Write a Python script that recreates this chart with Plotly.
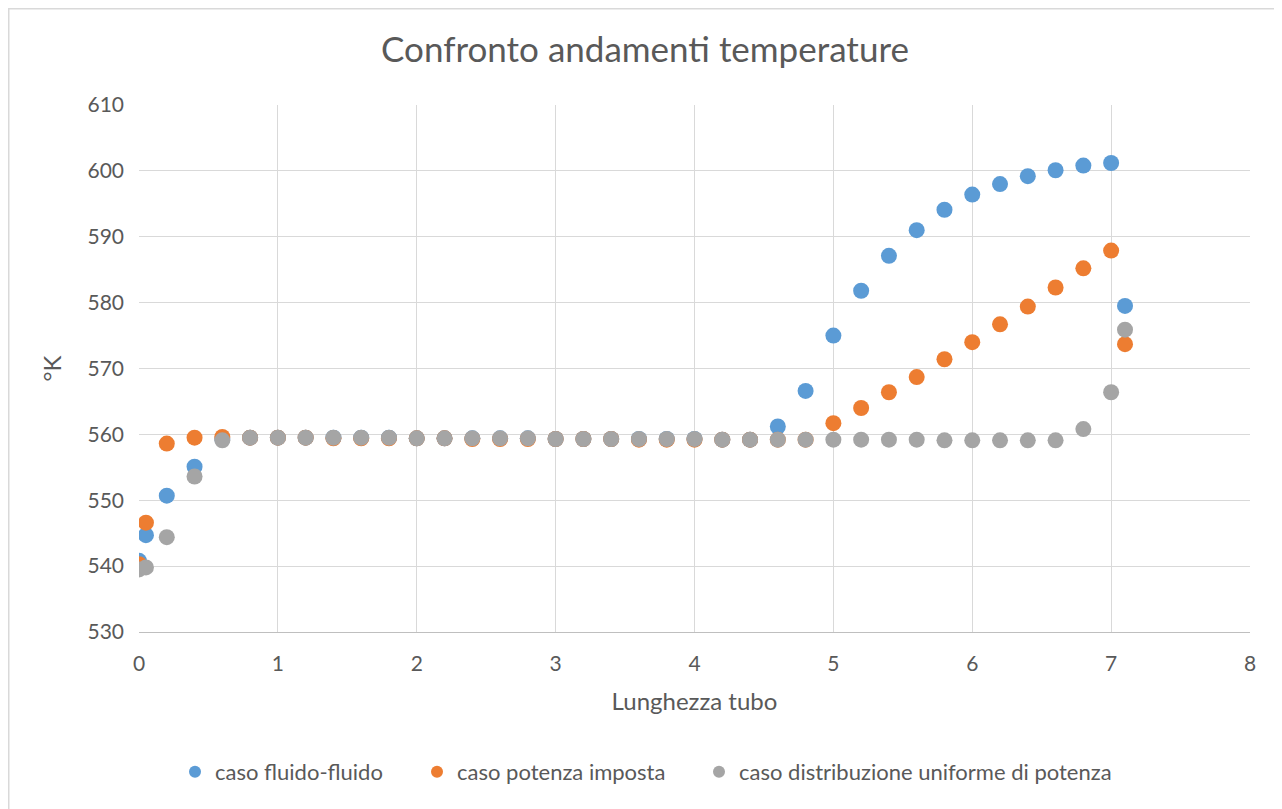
import plotly.graph_objects as go

x_len = [0, 0.05, 0.2, 0.4, 0.6, 0.8, 1.0, 1.2, 1.4, 1.6, 1.8, 2.0, 2.2, 2.4, 2.6, 2.8,
         3.0, 3.2, 3.4, 3.6, 3.8, 4.0, 4.2, 4.4, 4.6, 4.8, 5.0, 5.2, 5.4, 5.6, 5.8,
         6.0, 6.2, 6.4, 6.6, 6.8, 7.0, 7.1]

fluido_fluido = [540.8, 544.7, 550.7, 555.1, 559.3, 559.5,
                 559.5, 559.5, 559.5, 559.5, 559.5, 559.4, 559.4, 559.4, 559.4,
                 559.4, 559.3, 559.3, 559.3, 559.3, 559.3, 559.3, 559.2, 559.2,
                 561.2, 566.6, 575.0, 581.8, 587.1, 591.0, 594.1, 596.4, 598.0,
                 599.2, 600.1, 600.8, 601.2, 579.5]

potenza_imposta = [540.3, 546.6, 558.6, 559.5, 559.6, 559.5,
                   559.5, 559.5, 559.4, 559.4, 559.4, 559.4, 559.4, 559.3, 559.3,
                   559.3, 559.3, 559.3, 559.3, 559.2, 559.2, 559.2, 559.2, 559.2,
                   559.2, 559.2, 561.7, 564.0, 566.4, 568.7, 571.4, 574.0, 576.7,
                   579.4, 582.3, 585.2, 587.9, 573.7]

distribuzione_uniforme = [539.5, 539.8, 544.4, 553.6, 559.1, 559.5,
                          559.5, 559.5, 559.5, 559.5, 559.5, 559.4, 559.4, 559.4, 559.4,
                          559.4, 559.3, 559.3, 559.3, 559.3, 559.3, 559.3, 559.2, 559.2,
                          559.2, 559.2, 559.2, 559.2, 559.2, 559.2, 559.1, 559.1, 559.1,
                          559.1, 559.1, 560.8, 566.4, 575.9]

series_names = ["caso fluido-fluido", "caso potenza imposta",
                "caso distribuzione uniforme di potenza"]
series_colors = ["#5B9BD5", "#ED7D31", "#A5A5A5"]
series_values = [fluido_fluido, potenza_imposta, distribuzione_uniforme]

FONT = "Lato"
TXT = "#595959"

# page body has an 8px margin; figure coordinates = page coordinates - 8
W, H = 1274, 801
L, R, T, B = 131, 1242, 97, 624
pw, ph = R - L, B - T

legend_ids = ["legend", "legend2", "legend3"]
legend_marker_px = [187, 429, 711]
legend_y_px = 764

fig = go.Figure()
for name, col, vals, lid in zip(series_names, series_colors, series_values, legend_ids):
    fig.add_trace(go.Scatter(x=x_len, y=vals, mode="markers", name=name, legend=lid,
                             marker=dict(color=col, size=16, line=dict(width=0))))

legend_common = dict(orientation="h", xanchor="left", yanchor="middle",
                     font=dict(family=FONT, size=22, color=TXT), itemsizing="constant",
                     bgcolor="rgba(0,0,0,0)", borderwidth=0)
legends = {}
for lid, mx in zip(legend_ids, legend_marker_px):
    legends[lid] = dict(legend_common, x=(mx - 20 - L) / pw, y=(B - legend_y_px) / ph)

fig.update_layout(
    width=W, height=H,
    margin=dict(l=L, r=W - R, t=T, b=H - B, pad=0),
    paper_bgcolor="white", plot_bgcolor="white",
    font=dict(family=FONT, color=TXT, size=21),
    title=dict(text="Confronto andamenti temperature", x=0.5,
               xanchor="center", y=1 - 42 / H, yanchor="middle",
               font=dict(family=FONT, size=35, color=TXT)),
    xaxis=dict(range=[0, 8], dtick=1, tick0=0, showgrid=True, gridcolor="#D9D9D9",
               gridwidth=1, zeroline=False, showline=True, linecolor="#BFBFBF",
               linewidth=1, ticks="", tickfont=dict(size=21, color=TXT),
               ticklabelstandoff=13,
               title=dict(text="Lunghezza tubo", font=dict(size=24, color=TXT), standoff=18)),
    yaxis=dict(range=[530, 610], dtick=10, tick0=530, showgrid=True, gridcolor="#D9D9D9",
               gridwidth=1, zeroline=False, showline=False, ticks="",
               tickfont=dict(size=21, color=TXT), ticklabelstandoff=14,
               title=dict(text="°K", font=dict(size=24, color=TXT), standoff=19)),
    showlegend=True,
    shapes=[dict(type="rect", xref="paper", yref="paper",
                 x0=(0.75 - L) / pw, x1=(W + 20 - L) / pw,
                 y0=(B - (H + 20)) / ph, y1=1 + (T - 0.75) / ph,
                 line=dict(color="#D9D9D9", width=1.5), fillcolor="rgba(0,0,0,0)",
                 layer="below")],
    **legends,
)

fig.write_html("out.html")
